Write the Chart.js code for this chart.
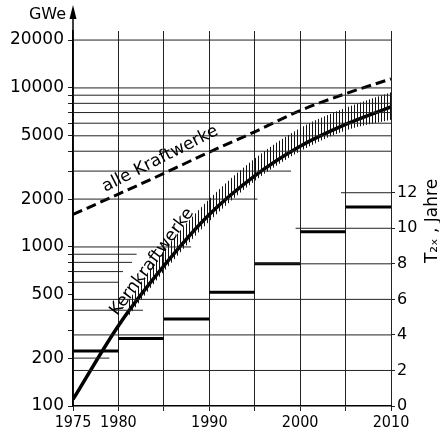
<!DOCTYPE html>
<html>
<head>
<meta charset="utf-8">
<script src="https://cdn.jsdelivr.net/npm/chart.js@4.4.1/dist/chart.umd.min.js"></script>
<style>
  html, body { margin: 0; padding: 0; background: #fff; }
  #wrap { width: 440px; height: 435px; }
</style>
</head>
<body>
<div id="wrap"><canvas id="chart"></canvas></div>
<script>
// Leistung in GWe
const years = [1975, 1980, 1985, 1990, 1995, 2000, 2005, 2010];
const alleKraftwerke = [1600, 2150, 2900, 3950, 5300, 7200, 9200, 11400];
const kernKraftwerke = [110, 320, 760, 1600, 2800, 4300, 5900, 7600];

// Streubereich Kernkraftwerke (schraffiert)
const bandYears = [1981, 1985, 1990, 1995, 2000, 2005, 2010];
const bandHigh = [450, 950, 2000, 3600, 5600, 7500, 9400];
const bandLow = [360, 700, 1450, 2600, 4000, 5400, 6300];

// Verdopplungszeit T2x je 5-Jahres-Abschnitt
const periodStart = [1975, 1980, 1985, 1990, 1995, 2000, 2005];
const periodEnd = [1980, 1985, 1990, 1995, 2000, 2005, 2010];
const doublingTime = [3.1, 3.8, 4.9, 6.4, 8.0, 9.8, 11.2];

// Achsen
const gweTicks = [100, 200, 300, 400, 500, 600, 700, 800, 900, 1000, 2000, 3000, 4000, 5000, 6000, 7000, 8000, 9000, 10000, 20000];
const gweLabels = [100, 200, 500, 1000, 2000, 5000, 10000, 20000];
const yearLabels = [1975, 1980, 1990, 2000, 2010];
const jahreTicks = [0, 2, 4, 6, 8, 10, 12];

// Gitterlinien sind im Original nur teilweise durchgezogen
const gweGrid = [200, 400, 600, 700, 800, 900, 1000, 2000, 3000, 4000, 5000, 6000, 7000, 8000, 9000, 10000, 20000];
const gweGridEnd = [1979, 1982.7, 1980, 1980.5, 1981.5, 1982, 1988, 1995.3, 1999, 2010, 2010, 2010, 2010, 2010, 2010, 2010, 2010];
const jahreGrid = [2, 4, 6, 8, 10, 12];
const jahreGridStart = [1975, 1975, 1975, 1995, 1999.5, 2004.5];

const ctx = document.getElementById('chart').getContext('2d');

const hatch = (function () {
    const c = document.createElement('canvas');
    c.width = 3; c.height = 3;
    const g = c.getContext('2d');
    g.fillStyle = '#111';
    g.fillRect(0, 0, 1, 3);
    return ctx.createPattern(c, 'repeat');
})();

const datasets = [];

gweGrid.forEach((v, i) => {
    datasets.push({
        data: [{ x: 1975, y: v }, { x: gweGridEnd[i], y: v }],
        yAxisID: 'y', borderColor: '#222', borderWidth: 1, pointRadius: 0
    });
});
jahreGrid.forEach((t, i) => {
    datasets.push({
        data: [{ x: jahreGridStart[i], y: t }, { x: 2010, y: t }],
        yAxisID: 'yR', borderColor: '#222', borderWidth: 1, pointRadius: 0
    });
});

datasets.push({
    data: bandYears.map((x, i) => ({ x: x, y: bandHigh[i] })),
    yAxisID: 'y', borderWidth: 0, pointRadius: 0, fill: '+1',
    backgroundColor: hatch, cubicInterpolationMode: 'monotone'
});
datasets.push({
    data: bandYears.map((x, i) => ({ x: x, y: bandLow[i] })),
    yAxisID: 'y', borderWidth: 0, pointRadius: 0, fill: false,
    cubicInterpolationMode: 'monotone'
});

datasets.push({
    label: 'alle Kraftwerke',
    data: years.map((x, i) => ({ x: x, y: alleKraftwerke[i] })),
    yAxisID: 'y', borderColor: '#000', borderWidth: 3, borderDash: [10, 5],
    pointRadius: 0, cubicInterpolationMode: 'monotone'
});
datasets.push({
    label: 'Kernkraftwerke',
    data: years.map((x, i) => ({ x: x, y: kernKraftwerke[i] })),
    yAxisID: 'y', borderColor: '#000', borderWidth: 3.5,
    pointRadius: 0, cubicInterpolationMode: 'monotone'
});

const steps = [];
periodStart.forEach((s, i) => {
    steps.push({ x: s, y: doublingTime[i] });
    steps.push({ x: periodEnd[i], y: doublingTime[i] });
    steps.push({ x: periodEnd[i], y: null });
});
datasets.push({
    label: 'T2x',
    data: steps, yAxisID: 'yR', borderColor: '#000', borderWidth: 3,
    pointRadius: 0, spanGaps: false
});

const deko = {
    id: 'deko',
    afterDraw(chart) {
        const c = chart.ctx;
        const a = chart.chartArea;
        const sx = chart.scales.x, sy = chart.scales.y;
        c.save();
        c.strokeStyle = '#000';
        c.fillStyle = '#000';
        c.lineWidth = 1.5;
        c.beginPath();
        c.moveTo(a.left, a.top);
        c.lineTo(a.left, 14);
        c.stroke();
        c.beginPath();
        c.moveTo(a.left, 5);
        c.lineTo(a.left - 3.5, 19);
        c.lineTo(a.left + 3.5, 19);
        c.closePath();
        c.fill();

        c.font = '16px "DejaVu Sans"';
        c.textAlign = 'right';
        c.textBaseline = 'middle';
        c.fillText('GWe', a.left - 7, 15);

        c.textAlign = 'center';
        c.save();
        c.translate(433, 221);
        c.rotate(-Math.PI / 2);
        c.font = '17px "DejaVu Sans"';
        c.fillText('T\u2082\u2093 , Jahre', 0, 0);
        c.restore();

        c.font = '17px "DejaVu Sans"';
        c.save();
        c.translate(sx.getPixelForValue(1984.6), sy.getPixelForValue(3570));
        c.rotate(-27 * Math.PI / 180);
        c.fillText('alle Kraftwerke', 0, 0);
        c.restore();

        c.save();
        c.translate(sx.getPixelForValue(1983.7), sy.getPixelForValue(805));
        c.rotate(-53.5 * Math.PI / 180);
        c.fillText('Kernkraftwerke', 0, 0);
        c.restore();
        c.restore();
    }
};

new Chart(ctx, {
    type: 'line',
    data: { datasets: datasets },
    options: {
        responsive: true,
        maintainAspectRatio: false,
        animation: false,
        layout: { padding: { top: 31, left: 0, right: 0, bottom: 0 } },
        plugins: { legend: { display: false }, tooltip: { enabled: false } },
        scales: {
            x: {
                type: 'linear', min: 1975, max: 2010,
                afterBuildTicks: s => { s.ticks = years.map(v => ({ value: v })); },
                afterFit: s => { s.height = 29; },
                ticks: {
                    autoSkip: false, maxRotation: 0, padding: 2, color: '#000',
                    font: { family: '"DejaVu Sans Condensed", "DejaVu Sans"', size: 16 },
                    callback: v => yearLabels.includes(v) ? String(v) : ''
                },
                grid: { color: '#222', lineWidth: 1, tickLength: 5 },
                border: { color: '#000', width: 1.5 }
            },
            y: {
                type: 'logarithmic', position: 'left', min: 100, max: 22800,
                afterBuildTicks: s => { s.ticks = gweTicks.map(v => ({ value: v })); },
                afterFit: s => { s.width = 73; },
                ticks: {
                    autoSkip: false, padding: 4, color: '#000',
                    font: { family: '"DejaVu Sans"', size: 17 },
                    callback: v => gweLabels.includes(v) ? String(v) : ''
                },
                grid: { drawOnChartArea: false, color: '#222', tickLength: 5 },
                border: { color: '#000', width: 1.5 }
            },
            yR: {
                type: 'linear', position: 'right', min: 0, max: 21.1,
                afterBuildTicks: s => { s.ticks = jahreTicks.map(v => ({ value: v })); },
                afterFit: s => { s.width = 49; },
                ticks: {
                    autoSkip: false, padding: 2, color: '#000',
                    font: { family: '"DejaVu Sans"', size: 16 }
                },
                grid: { drawOnChartArea: false, color: '#222', tickLength: 4 },
                border: { display: false }
            }
        }
    },
    plugins: [deko]
});
</script>
</body>
</html>
